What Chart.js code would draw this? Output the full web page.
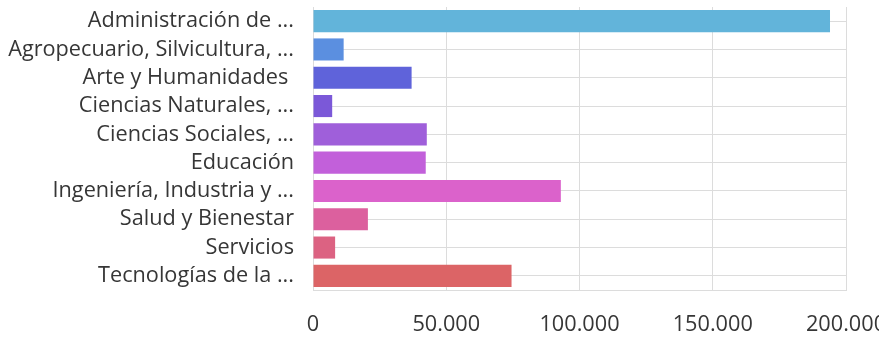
<!DOCTYPE html>
<html>
<head>
<meta charset="utf-8">
<script src="https://cdn.jsdelivr.net/npm/chart.js@4/dist/chart.umd.min.js"></script>
<style>
  html, body { margin: 0; padding: 0; background: #ffffff; overflow: hidden; }
  #wrap { position: relative; width: 879px; height: 339px; }
</style>
</head>
<body>
<div id="wrap"><canvas id="c"></canvas></div>
<script>
const categories = [
  "Administración de ...",
  "Agropecuario, Silvicultura, ...",
  "Arte y Humanidades ",
  "Ciencias Naturales, ...",
  "Ciencias Sociales, ...",
  "Educación",
  "Ingeniería, Industria y ...",
  "Salud y Bienestar",
  "Servicios",
  "Tecnologías de la ..."
];
const values = [194000, 11500, 37000, 7200, 42700, 42300, 93000, 20600, 8300, 74500];
const barColors = [
  "#62b4da", "#5b8fe0", "#5f63da", "#7b58d8", "#9f5fda",
  "#c260da", "#db62cb", "#dc609e", "#dc6282", "#dc6466"
];
const xTicks = [0, 50000, 100000, 150000, 200000];

function fmt(v) {
  return String(v).replace(/\B(?=(\d{3})+(?!\d))/g, ".");
}

new Chart(document.getElementById("c"), {
  type: "bar",
  data: {
    labels: categories,
    datasets: [{
      data: values,
      backgroundColor: barColors,
      borderWidth: 0,
      categoryPercentage: 1.0,
      barPercentage: 0.78
    }]
  },
  options: {
    indexAxis: "y",
    responsive: true,
    maintainAspectRatio: false,
    animation: false,
    layout: { padding: { top: 7, left: 0, right: 33, bottom: 0 } },
    plugins: { legend: { display: false }, tooltip: { enabled: false } },
    scales: {
      x: {
        min: xTicks[0],
        max: xTicks[xTicks.length - 1],
        afterBuildTicks: (s) => { s.ticks = xTicks.map(v => ({ value: v })); },
        afterFit: (s) => {
          s.height = 49;
          s.paddingLeft = 0; s.paddingRight = 0;
        },
        grid: { color: "#dcdcdc", drawTicks: false },
        border: { color: "#dcdcdc" },
        ticks: {
          padding: 22,
          color: "#363636",
          font: { family: "'Open Sans', sans-serif", size: 21.7 },
          callback: (v) => fmt(v),
          maxRotation: 0,
          autoSkip: false
        }
      },
      y: {
        afterFit: (s) => {
          s.width = 313;
          s.paddingTop = 0; s.paddingBottom = 0;
        },
        grid: { color: "#dcdcdc", drawTicks: false, offset: false },
        border: { color: "#dcdcdc" },
        ticks: {
          padding: 19,
          autoSkip: false,
          color: "#363636",
          font: { family: "'Open Sans', sans-serif", size: 21.7 }
        }
      }
    }
  }
});
</script>
</body>
</html>
